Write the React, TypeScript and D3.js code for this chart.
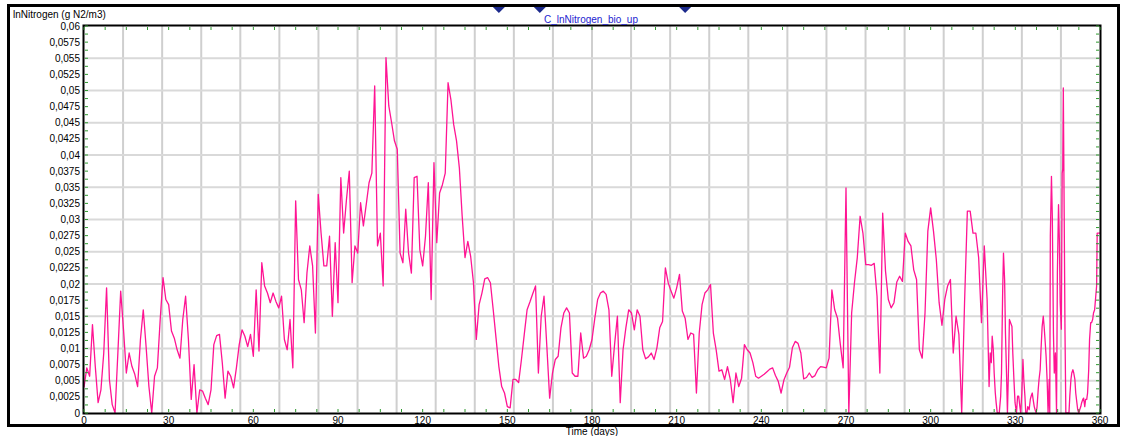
import React from "react";
import * as d3 from "d3";

// daily values, day 0..319
const dailyValues = [
  0.004, 0.007, 0.0057, 0.0137, 0.0072, 0.0016, 0.0036, 0.0093, 0.0194, 0.0052,
  0.0013, 0, 0.0093, 0.0189, 0.0129, 0.0062, 0.0093, 0.0072, 0.006, 0.0041,
  0.0114, 0.016, 0.0103, 0.0041, 0, 0.0057, 0.007, 0.0145, 0.021, 0.0176,
  0.0168, 0.0127, 0.0116, 0.0098, 0.0085, 0.0145, 0.0181, 0.0114, 0.0021, 0.0075,
  0, 0.0036, 0.0034, 0.0023, 0.0013, 0.0036, 0.0106, 0.012, 0.0122, 0.0078,
  0.0023, 0.0065, 0.0057, 0.0039, 0.007, 0.0106, 0.0129, 0.0119, 0.0103, 0.0122,
  0.0088, 0.0191, 0.0096, 0.0233, 0.0197, 0.0186, 0.0171, 0.0186, 0.0173, 0.0163,
  0.0181, 0.0114, 0.0098, 0.0145, 0.007, 0.0329, 0.0207, 0.0191, 0.014, 0.0217,
  0.0259, 0.0228, 0.0124, 0.0339, 0.0279, 0.0228, 0.0228, 0.0274, 0.015, 0.0264,
  0.0171, 0.0365, 0.0279, 0.0331, 0.0375, 0.0202, 0.0259, 0.0248, 0.0326, 0.029,
  0.0323, 0.0357, 0.0372, 0.0507, 0.0259, 0.0279, 0.0197, 0.0551, 0.0476, 0.045,
  0.0422, 0.0409, 0.0248, 0.0233, 0.0316, 0.0248, 0.0217, 0.0365, 0.0367, 0.0253,
  0.0228, 0.0274, 0.0357, 0.0176, 0.0388, 0.0264, 0.0341, 0.0354, 0.0372, 0.0512,
  0.0486, 0.0447, 0.0422, 0.038, 0.0305, 0.0241, 0.0266, 0.0243, 0.0202, 0.0114,
  0.0168, 0.0186, 0.0208, 0.021, 0.0202, 0.016, 0.0116, 0.0072, 0.0041, 0.0031,
  0.001, 0.0008, 0.0052, 0.0052, 0.0047, 0.0083, 0.0122, 0.016, 0.0172, 0.0185,
  0.0197, 0.0062, 0.015, 0.0181, 0.0103, 0.0023, 0.0062, 0.0083, 0.0088, 0.0132,
  0.0155, 0.0163, 0.0155, 0.0062, 0.0057, 0.0057, 0.0124, 0.0085, 0.0088, 0.0098,
  0.0114, 0.0147, 0.0176, 0.0186, 0.0189, 0.0184, 0.016, 0.0057, 0.0106, 0.015,
  0.0016, 0.0098, 0.0132, 0.016, 0.0155, 0.0129, 0.016, 0.015, 0.0098, 0.0084,
  0.0087, 0.0093, 0.0083, 0.0101, 0.0132, 0.0142, 0.0225, 0.0202, 0.0189, 0.0178,
  0.0194, 0.0215, 0.0158, 0.0147, 0.0114, 0.0124, 0.0122, 0.0031, 0.0124, 0.0168,
  0.0186, 0.0191, 0.0199, 0.0124, 0.0098, 0.0065, 0.0067, 0.0052, 0.0072, 0.0052,
  0.0016, 0.0062, 0.0041, 0.0054, 0.0106, 0.0098, 0.0093, 0.0078, 0.0057, 0.0054,
  0.0057, 0.006, 0.0064, 0.0068, 0.007, 0.0058, 0.0049, 0.0031, 0.0051, 0.0062,
  0.0071, 0.0101, 0.0111, 0.0108, 0.0093, 0.0053, 0.0055, 0.0062, 0.0055, 0.0058,
  0.0067, 0.0072, 0.0071, 0.007, 0.0085, 0.0191, 0.016, 0.0147, 0.0106, 0.007,
  0.0349, 0, 0.0155, 0.0202, 0.0241, 0.0305, 0.0279, 0.023, 0.023, 0.0229,
  0.0232, 0.0181, 0.0062, 0.031, 0.022, 0.0176, 0.0163, 0.0171, 0.0203, 0.0212,
  0.0204, 0.0279, 0.0266, 0.0259, 0.0222, 0.0207, 0.0098, 0.0085, 0.0155, 0.0282,
  0.0318, 0.0282, 0.0238, 0.0171, 0.0136, 0.0176, 0.0197, 0.0207, 0.0093, 0.015,
  0.0122, 0, 0.017, 0.0313, 0.0313, 0.0279, 0.0279, 0.0241, 0.014, 0.0259,
];

// finer steps at the end of the year
const tailDays = [
  320.0, 320.7, 321.1, 321.5, 321.8, 322.2, 322.5, 322.9, 323.2, 323.6,
  324.3, 324.8, 325.1, 325.5, 325.8, 326.2, 326.5, 326.9, 327.2, 327.6,
  327.9, 328.8, 329.1, 329.5, 329.9, 330.4, 330.8, 331.2, 331.6, 331.9,
  332.3, 332.7, 333.0, 333.4, 333.7, 334.1, 334.4, 334.9, 335.3, 335.6,
  336.0, 336.3, 336.7, 337.0, 337.4, 337.7, 338.1, 338.4, 338.8, 339.1,
  339.5, 339.9, 340.2, 340.6, 340.9, 341.3, 341.6, 342.0, 342.2, 342.4,
  342.8, 343.1, 343.5, 343.8, 344.2, 344.6, 344.9, 345.3, 345.6, 345.9,
  346.3, 346.6, 346.8, 347.0, 347.2, 347.6, 347.9, 349.0, 349.3, 349.7,
  350.0, 350.4, 350.7, 351.1, 351.4, 351.8, 352.1, 352.5, 352.8, 353.2,
  353.5, 353.9, 354.2, 354.6, 354.9, 355.3, 355.6, 356.0, 356.3, 356.7,
  357.0, 357.4, 357.7, 358.1, 358.4, 358.8, 359.0, 360.0,
];
const tailValues = [
  0.0176, 0.0041, 0.0093, 0.0078, 0.0119, 0.0098, 0.0062, 0.0031, 0.0016, 0,
  0, 0.0026, 0.0062, 0.0186, 0.0248, 0.0207, 0.0124, 0.0057, 0, 0.0072,
  0.0145, 0.0134, 0.0093, 0.0052, 0.0016, 0, 0.0026, 0.0026, 0.001, 0,
  0.0031, 0.0083, 0.0052, 0.0026, 0, 0, 0.001, 0.0005, 0.0021, 0.0026,
  0.0031, 0.0021, 0.001, 0.0005, 0, 0.001, 0.0036, 0.0052, 0.0067, 0.0098,
  0.0134, 0.015, 0.0134, 0.0109, 0.0088, 0.0047, 0, 0.0052, 0, 0.0274,
  0.0367, 0.0305, 0.0124, 0.0062, 0.0093, 0, 0.0217, 0.0323, 0.0269, 0.0171,
  0.013, 0.0372, 0.0378, 0.0504, 0.0378, 0.0124, 0, 0, 0.0026, 0.0052,
  0.0062, 0.0067, 0.0062, 0.0052, 0.0031, 0.0016, 0.0005, 0, 0.0005, 0.001,
  0.0016, 0.0021, 0.0023, 0.001, 0.0021, 0.0021, 0.0031, 0.0067, 0.0114, 0.014,
  0.014, 0.0145, 0.0155, 0.016, 0.0176, 0.0197, 0.0279, 0.0279,
];

const xTicks = [0, 30, 60, 90, 120, 150, 180, 210, 240, 270, 300, 330, 360];
const yTicks = [
  0, 0.0025, 0.005, 0.0075, 0.01, 0.0125, 0.015, 0.0175, 0.02, 0.0225, 0.025,
  0.0275, 0.03, 0.0325, 0.035, 0.0375, 0.04, 0.0425, 0.045, 0.0475, 0.05,
  0.0525, 0.055, 0.0575, 0.06,
];
const markerDays = [147, 161.5, 213];
const seriesName = "C_lnNitrogen_bio_up";
const yTitle = "lnNitrogen (g N2/m3)";
const xTitle = "Time (days)";

const W = 1135, H = 436;
const pLeft = 84, pRight = 1100, pTop = 26, pBottom = 413;
const font = "'Liberation Sans', Arial, sans-serif";

const App = () => {
  const x = d3.scaleLinear().domain([0, 360]).range([pLeft, pRight]);
  const y = d3.scaleLinear().domain([0, 0.06]).range([pBottom, pTop]);

  const data: [number, number][] = dailyValues
    .map((v, i) => [i, v] as [number, number])
    .concat(tailDays.map((d, i) => [d, tailValues[i]] as [number, number]));

  const line = d3.line<[number, number]>()
    .x(d => x(d[0]))
    .y(d => y(d[1]));

  const yFormat = (v: number) => v === 0 ? "0" : d3.format(".4~f")(v).replace(".", ",");

  const vGrid = d3.range(1, 26).map(i => i * 360 / 26);
  const hGrid = yTicks.filter((_, i) => i % 2 === 0 && i > 0 && i < yTicks.length - 1);
  const xMinor = d3.range(0, 360.01, 7.5);
  const yMinor = d3.range(0, 0.06001, 0.00125);

  return (
    <svg width={W} height={H} style={{position: "absolute", left: 0, top: 0, display: "block"}}
         fontFamily={font}>
      <rect x={0} y={0} width={W} height={H} fill="#fff"/>
      <defs>
        <clipPath id="plotClip">
          <rect x={pLeft} y={pTop} width={pRight - pLeft} height={pBottom - pTop}/>
        </clipPath>
      </defs>

      {/* grid */}
      <g stroke="#cfcfcf" strokeWidth={2}>
        {vGrid.map(d => (
          <line key={"v" + d} x1={x(d)} x2={x(d)} y1={pTop} y2={pBottom}/>
        ))}
        {hGrid.map(v => (
          <line key={"h" + v} x1={pLeft} x2={pRight} y1={y(v)} y2={y(v)} stroke="#d9d9d9"/>
        ))}
      </g>

      {/* series */}
      <path d={line(data) || ""} fill="none" stroke="#ff1493" strokeWidth={1.3}
            strokeLinejoin="round" clipPath="url(#plotClip)"/>

      {/* plot frame */}
      <rect x={pLeft - 0.5} y={pTop - 0.5} width={pRight - pLeft + 1} height={pBottom - pTop + 1}
            fill="none" stroke="#000" strokeWidth={2}/>

      {/* minor ticks */}
      <g stroke="#2e9a2e" strokeWidth={1}>
        {xMinor.map(d => (
          <g key={"xm" + d}>
            <line x1={x(d)} x2={x(d)} y1={pTop + 1} y2={pTop + 4}/>
            <line x1={x(d)} x2={x(d)} y1={pBottom - 1} y2={pBottom - 4}/>
          </g>
        ))}
        {yMinor.map(v => (
          <g key={"ym" + v}>
            <line x1={pLeft + 1} x2={pLeft + 4} y1={y(v)} y2={y(v)}/>
            <line x1={pRight - 1} x2={pRight - 4} y1={y(v)} y2={y(v)}/>
          </g>
        ))}
      </g>

      {/* y labels */}
      <g fontSize={10} fill="#000" textAnchor="end">
        {yTicks.map(v => (
          <text key={"yl" + v} x={pLeft - 4} y={y(v)} dy="0.35em">{yFormat(v)}</text>
        ))}
      </g>

      {/* x labels */}
      <g fontSize={10} fill="#000" textAnchor="middle">
        {xTicks.map(d => (
          <text key={"xl" + d} x={x(d)} y={pBottom + 11}>{d}</text>
        ))}
      </g>
      <text x={x(180)} y={435} fontSize={10} textAnchor="middle">{xTitle}</text>

      {/* outer frame */}
      <g stroke="#000" strokeWidth={3}>
        <line x1={7} x2={1120} y1={5.5} y2={5.5}/>
        <line x1={8.5} x2={8.5} y1={4} y2={427}/>
        <line x1={7} x2={1120} y1={425.5} y2={425.5}/>
        <line x1={1118.5} x2={1118.5} y1={4} y2={427}/>
      </g>

      <text x={13} y={18} fontSize={10}>{yTitle}</text>

      {/* event markers */}
      {markerDays.map(d => (
        <path key={"m" + d}
              d={`M${x(d) - 6},7 L${x(d) + 6},7 L${x(d)},13 Z`}
              fill="#1c2a8c"/>
      ))}
      <text x={591} y={23} fontSize={10} fill="#2424d0" textAnchor="middle">{seriesName}</text>
    </svg>
  );
};

export default App;
